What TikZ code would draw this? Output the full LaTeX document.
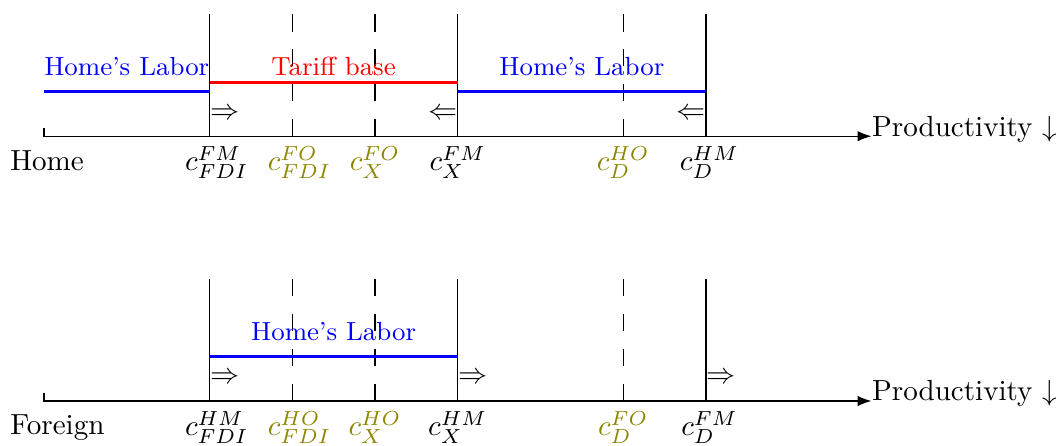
\documentclass[tikz,border=0pt]{standalone}
\usepackage{amsmath,amssymb}
\usetikzlibrary{arrows.meta}

\begin{document}
\begin{tikzpicture}[x=1cm, y=1cm, >={Latex},
	labor/.style={blue, line width=1pt},
	tariff/.style={red, line width=1pt},
	cut/.style={dash pattern=on 6pt off 6pt},
	move/.style={inner sep=0pt}]
	\useasboundingbox (-0.532,-0.532) rectangle (12.242,4.846);
	% the two axes
	\foreach \yy/\nm/\cty in {3.2/home/Home, 0/foreign/Foreign} {
		\coordinate (\nm0) at (0,\yy);
		\coordinate (\nm10) at (10,\yy);
		\draw[->] (0,\yy+0.1) -- (\nm0) -- (\nm10);
		\node[anchor=base west, inner sep=0pt] (\nm prod) at (\nm10) {Productivity $\downarrow$};
		\node[anchor=base west] (\nm name) at (-0.532,\yy-0.41) {\cty};
		\foreach \xx in {2,5,8}
			\draw (\xx,\yy) -- (\xx,\yy+1.476);
		\foreach \xx in {3,4,7}
			\draw[cut] (\xx,\yy+1.476) -- (\xx,\yy);
	}
	% cut-offs, Home
	\node[below, xshift=2.5pt] (hfdiFM) at (2,3.2) {$c^{FM}_{FDI}$};
	\node[below, xshift=2.5pt, olive] (hfdiFO) at (3,3.2) {$c^{FO}_{FDI}$};
	\node[below, olive] (hxFO) at (4,3.2) {$c^{FO}_{X}$};
	\node[below] (hxFM) at (5,3.2) {$c^{FM}_{X}$};
	\node[below, olive] (hdHO) at (7,3.2) {$c^{HO}_{D}$};
	\node[below, xshift=1.2pt] (hdHM) at (8,3.2) {$c^{HM}_{D}$};
	% cut-offs, Foreign
	\node[below, xshift=2.5pt] (ffdiHM) at (2,0) {$c^{HM}_{FDI}$};
	\node[below, xshift=2.5pt, olive] (ffdiHO) at (3,0) {$c^{HO}_{FDI}$};
	\node[below, olive] (fxHO) at (4,0) {$c^{HO}_{X}$};
	\node[below] (fxHM) at (5,0) {$c^{HM}_{X}$};
	\node[below, olive] (fdFO) at (7,0) {$c^{FO}_{D}$};
	\node[below, xshift=1.2pt] (fdFM) at (8,0) {$c^{FM}_{D}$};
	% labor and tariff base
	\draw[labor] (0,3.735) -- (2,3.735);
	\draw[tariff] (2,3.85) -- (5,3.85);
	\draw[labor] (5,3.735) -- (8,3.735);
	\draw[labor] (2,0.535) -- (5,0.535);
	\node[blue, anchor=base, font=\small] (hlabA) at (1,3.935) {Home's Labor};
	\node[red, anchor=base, font=\small] (htar) at (3.5,3.935) {Tariff base};
	\node[blue, anchor=base, font=\small] (hlabB) at (6.5,3.935) {Home's Labor};
	\node[blue, anchor=base, font=\small] (flab) at (3.5,0.735) {Home's Labor};
	% shifts of the cut-offs
	\node[move, anchor=west] (hsA) at (2,3.47) {$\Rightarrow$};
	\node[move, anchor=east] (hsB) at (5,3.47) {$\Leftarrow$};
	\node[move, anchor=east] (hsC) at (8,3.47) {$\Leftarrow$};
	\foreach \xx/\nm in {2/fsA, 5/fsB, 8/fsC}
		\node[move, anchor=west] (\nm) at (\xx,0.27) {$\Rightarrow$};
\end{tikzpicture}
\end{document}
